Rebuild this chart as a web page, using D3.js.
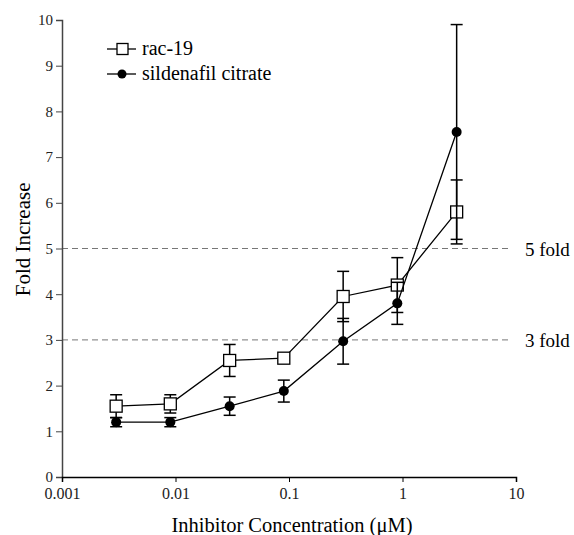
<!DOCTYPE html>
<html>
<head>
<meta charset="utf-8">
<script src="https://cdn.jsdelivr.net/npm/d3@7"></script>
<style>
  body { margin: 0; background: #fff; }
</style>
</head>
<body>
<svg width="574" height="535"></svg>
<script>
// input data
const concentrations = [0.003, 0.009, 0.03, 0.09, 0.3, 0.9, 3]; // µM
const rac19 = [1.55, 1.6, 2.55, 2.6, 3.95, 4.2, 5.8];
const rac19Err = [0.25, 0.2, 0.35, 0.05, 0.55, 0.6, 0.7];
const sildenafil = [1.2, 1.2, 1.55, 1.88, 2.97, 3.8, 7.55];
const sildenafilErr = [0.1, 0.1, 0.2, 0.24, 0.5, 0.46, 2.35];
const xTicks = [0.001, 0.01, 0.1, 1, 10];
const yTicks = [0, 1, 2, 3, 4, 5, 6, 7, 8, 9, 10];
const foldLines = [5, 3];

const fontFamily = "'Liberation Serif', 'Times New Roman', serif";
const svg = d3.select('svg').attr('font-family', fontFamily);

const margin = { top: 20, right: 58, bottom: 58, left: 62 };
const width = 574 - margin.left - margin.right;
const height = 535 - margin.top - margin.bottom;

const x = d3.scaleLog().domain([0.001, 10]).range([0, width]);
const y = d3.scaleLinear().domain([0, 10]).range([height, 0]);

const group = svg
  .append('g')
  .attr('transform', `translate(${margin.left} ${margin.top})`);

// dashed reference lines
group
  .selectAll('line.fold')
  .data(foldLines)
  .enter()
  .append('line')
  .attr('x1', 0)
  .attr('x2', width - 6)
  .attr('y1', d => y(d))
  .attr('y2', d => y(d))
  .attr('stroke', '#777')
  .attr('stroke-width', 1)
  .attr('stroke-dasharray', '6 4');

group
  .selectAll('text.fold')
  .data(foldLines)
  .enter()
  .append('text')
  .attr('x', width + 9)
  .attr('y', d => y(d) + 7)
  .attr('font-size', 19)
  .style('font-family', fontFamily)
  .text(d => `${d} fold`);

// axes
const yAxis = group
  .append('g')
  .call(d3.axisLeft(y).tickValues(yTicks).tickSize(6).tickPadding(3))
  .attr('font-family', fontFamily);
yAxis.select('.domain').attr('stroke', '#444').attr('stroke-width', 1.5);
yAxis.selectAll('.tick line').attr('stroke', '#444');
yAxis.selectAll('text').attr('font-size', 15).attr('fill', '#222').style('font-family', fontFamily);

const xAxis = group
  .append('g')
  .attr('transform', `translate(0 ${height})`)
  .call(d3.axisBottom(x).tickValues(xTicks).tickFormat(d => String(d)).tickSize(5).tickPadding(6))
  .attr('font-family', fontFamily);
xAxis.select('.domain').attr('stroke', '#000').attr('stroke-width', 1.5);
xAxis.selectAll('text').attr('font-size', 16).attr('fill', '#222').style('font-family', fontFamily);

// axis titles
group
  .append('text')
  .attr('x', width / 2 + 3)
  .attr('y', height + 55)
  .attr('text-anchor', 'middle')
  .attr('font-size', 20.5)
  .style('font-family', fontFamily)
  .text('Inhibitor Concentration (\u03bcM)');

group
  .append('text')
  .attr('transform', `translate(-32 ${y(5.2)}) rotate(-90)`)
  .attr('text-anchor', 'middle')
  .attr('font-size', 21)
  .style('font-family', fontFamily)
  .text('Fold Increase');

// series
const series = [
  { name: 'rac-19', values: rac19, errors: rac19Err, marker: 'square' },
  { name: 'sildenafil citrate', values: sildenafil, errors: sildenafilErr, marker: 'circle' },
];

const line = d3
  .line()
  .x(d => x(d.c))
  .y(d => y(d.v));

series.forEach(s => {
  const points = concentrations.map((c, i) => ({ c, v: s.values[i], e: s.errors[i] }));
  const g = group.append('g');

  // error bars
  const bars = g.selectAll('g.err').data(points).enter().append('g');
  bars
    .append('line')
    .attr('x1', d => x(d.c))
    .attr('x2', d => x(d.c))
    .attr('y1', d => y(d.v - d.e))
    .attr('y2', d => y(d.v + d.e))
    .attr('stroke', '#000')
    .attr('stroke-width', 1.5);
  [-1, 1].forEach(sign => {
    bars
      .append('line')
      .attr('x1', d => x(d.c) - 6)
      .attr('x2', d => x(d.c) + 6)
      .attr('y1', d => y(d.v + sign * d.e))
      .attr('y2', d => y(d.v + sign * d.e))
      .attr('stroke', '#000')
      .attr('stroke-width', 1.5);
  });

  g.append('path')
    .attr('d', line(points))
    .attr('fill', 'none')
    .attr('stroke', '#000')
    .attr('stroke-width', 1.3);

  if (s.marker === 'square') {
    g.selectAll('rect')
      .data(points)
      .enter()
      .append('rect')
      .attr('x', d => x(d.c) - 6)
      .attr('y', d => y(d.v) - 6)
      .attr('width', 12)
      .attr('height', 12)
      .attr('fill', '#fff')
      .attr('stroke', '#000')
      .attr('stroke-width', 1.3);
  } else {
    g.selectAll('circle')
      .data(points)
      .enter()
      .append('circle')
      .attr('cx', d => x(d.c))
      .attr('cy', d => y(d.v))
      .attr('r', 5)
      .attr('fill', '#000');
  }
});

// legend
const legend = svg.append('g').attr('transform', 'translate(107 49)');
series.forEach((s, i) => {
  const row = legend.append('g').attr('transform', `translate(0 ${i * 25})`);
  row
    .append('line')
    .attr('x1', 0)
    .attr('x2', 29)
    .attr('stroke', '#000')
    .attr('stroke-width', 1.3);
  if (s.marker === 'square') {
    row
      .append('rect')
      .attr('x', 10)
      .attr('y', -5.5)
      .attr('width', 11)
      .attr('height', 11)
      .attr('fill', '#fff')
      .attr('stroke', '#000')
      .attr('stroke-width', 1.3);
  } else {
    row.append('circle').attr('cx', 15).attr('r', 4.5).attr('fill', '#000');
  }
  row
    .append('text')
    .attr('x', 35)
    .attr('y', 6)
    .attr('font-size', 20)
    .style('font-family', fontFamily)
    .text(s.name);
});
</script>
</body>
</html>
